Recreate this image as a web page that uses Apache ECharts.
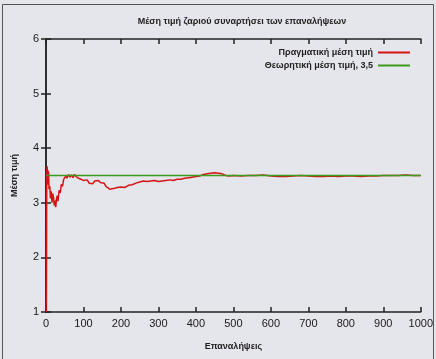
<!DOCTYPE html>
<html>
<head>
<meta charset="utf-8">
<script src="https://cdn.jsdelivr.net/npm/echarts@6/dist/echarts.min.js"></script>
<style>
  html, body { margin: 0; padding: 0; background: #e5e5ec; }
  #chart { width: 436px; height: 359px; }
</style>
</head>
<body>
<div id="chart"></div>
<script>
// επαναλήψεις (x) και μέση τιμή μέχρι εκείνη τη ρίψη (y)
const iterations = [1, 2, 3, 4, 5, 6, 7, 8, 10, 12, 14, 16, 18, 20, 22, 24, 26, 28, 30, 32,
  35, 38, 41, 44, 47, 50, 53, 56, 60, 64, 68, 72, 76, 80, 85, 90, 95, 100, 105, 110,
  115, 120, 125, 130, 135, 140, 145, 150, 155, 160, 165, 170, 175, 180, 190, 200, 210, 220, 230, 240,
  250, 260, 270, 280, 290, 300, 310, 320, 330, 340, 350, 360, 370, 380, 390, 400, 410, 420, 430, 440,
  450, 460, 470, 480, 490, 500, 520, 540, 560, 580, 600, 620, 640, 660, 680, 700, 720, 740, 760, 780,
  800, 820, 840, 860, 880, 900, 920, 940, 960, 980, 1000]
const realMean = [1.0, 3.5, 3.67, 3.5, 3.6, 3.33, 3.57, 3.25, 3.3, 3.08, 3.21, 3.0, 3.17, 3.1, 2.95, 3.04, 2.92, 3.07, 3.13, 3.03,
  3.23, 3.18, 3.34, 3.3, 3.43, 3.4, 3.49, 3.45, 3.52, 3.47, 3.51, 3.46, 3.52, 3.48, 3.47, 3.44, 3.45, 3.41, 3.39, 3.42,
  3.36, 3.38, 3.35, 3.4, 3.43, 3.41, 3.37, 3.34, 3.36, 3.3, 3.27, 3.25, 3.27, 3.26, 3.28, 3.29, 3.28, 3.32, 3.33, 3.36,
  3.38, 3.4, 3.39, 3.4, 3.41, 3.39, 3.4, 3.41, 3.42, 3.41, 3.43, 3.43, 3.45, 3.46, 3.47, 3.48, 3.49, 3.52, 3.53, 3.54,
  3.55, 3.54, 3.53, 3.5, 3.49, 3.5, 3.49, 3.5, 3.5, 3.51, 3.49, 3.48, 3.48, 3.49, 3.5, 3.49, 3.48, 3.48, 3.49, 3.48,
  3.49, 3.49, 3.48, 3.49, 3.49, 3.5, 3.5, 3.5, 3.51, 3.5, 3.5]
const theoryX = [0, 1000]
const theoryMean = [3.5, 3.5]

const xTicks = [0, 100, 200, 300, 400, 500, 600, 700, 800, 900, 1000]
const yTicks = [1, 2, 3, 4, 5, 6]

const chart = echarts.init(document.getElementById('chart'))

const font = 'Liberation Sans, Arial, sans-serif'
const axisColor = '#222'

const baseX = {
  type: 'value',
  min: xTicks[0],
  max: xTicks[xTicks.length - 1],
  interval: 100,
  splitLine: { show: false },
  axisLine: { lineStyle: { color: axisColor, width: 1.5 } },
  axisTick: { inside: true, length: 5, lineStyle: { color: axisColor, width: 1.5 } }
}
const baseY = {
  type: 'value',
  min: yTicks[0],
  max: yTicks[yTicks.length - 1],
  interval: 1,
  splitLine: { show: false },
  axisLine: { lineStyle: { color: axisColor, width: 1.5 } },
  axisTick: { inside: true, length: 5, lineStyle: { color: axisColor, width: 1.5 } }
}

const option = {
  backgroundColor: '#e5e5ec',
  animation: false,
  textStyle: { fontFamily: font },
  title: {
    text: 'Μέση τιμή ζαριού συναρτήσει των επαναλήψεων',
    left: 237,
    textAlign: 'center',
    top: 12,
    textStyle: { fontSize: 9, fontWeight: 'bold', color: '#222', fontFamily: font }
  },
  grid: { left: 46, right: 14, top: 39, bottom: 47 },
  legend: {
    orient: 'vertical',
    right: 21,
    top: 43,
    align: 'right',
    itemWidth: 32,
    itemHeight: 2,
    itemGap: 4,
    icon: 'rect',
    textStyle: { fontSize: 9, fontWeight: 'bold', color: '#222', fontFamily: font },
    data: ['Πραγματική μέση τιμή', 'Θεωρητική μέση τιμή, 3,5']
  },
  xAxis: [
    Object.assign({}, baseX, {
      position: 'bottom',
      name: 'Επαναλήψεις',
      nameLocation: 'middle',
      nameGap: 30,
      nameTextStyle: { fontSize: 9, fontWeight: 'bold', color: '#222' },
      axisLabel: { fontSize: 11, color: '#1a1a1a', margin: 6, formatter: v => String(v) }
    }),
    Object.assign({}, baseX, { position: 'top', axisLabel: { show: false } })
  ],
  yAxis: [
    Object.assign({}, baseY, {
      position: 'left',
      name: 'Μέση τιμή',
      nameLocation: 'middle',
      nameGap: 27,
      nameTextStyle: { fontSize: 9, fontWeight: 'bold', color: '#222' },
      axisLabel: { fontSize: 11, color: '#1a1a1a', margin: 7 }
    }),
    Object.assign({}, baseY, { position: 'right', axisLabel: { show: false } })
  ],
  series: [
    {
      name: 'Πραγματική μέση τιμή',
      type: 'line',
      showSymbol: false,
      symbol: 'none',
      data: iterations.map((it, i) => [it, realMean[i]]),
      lineStyle: { color: '#d41414', width: 1.5 },
      itemStyle: { color: '#d41414' }
    },
    {
      name: 'Θεωρητική μέση τιμή, 3,5',
      type: 'line',
      showSymbol: false,
      symbol: 'none',
      data: theoryX.map((x, i) => [x, theoryMean[i]]),
      lineStyle: { color: '#3c9a1c', width: 1.5 },
      itemStyle: { color: '#3c9a1c' }
    }
  ],
  graphic: [
    {
      type: 'rect',
      shape: { x: 2.5, y: 4.5, width: 431, height: 360 },
      style: { fill: 'none', stroke: '#555', lineWidth: 1 },
      silent: true
    }
  ]
}

chart.setOption(option)
</script>
</body>
</html>
